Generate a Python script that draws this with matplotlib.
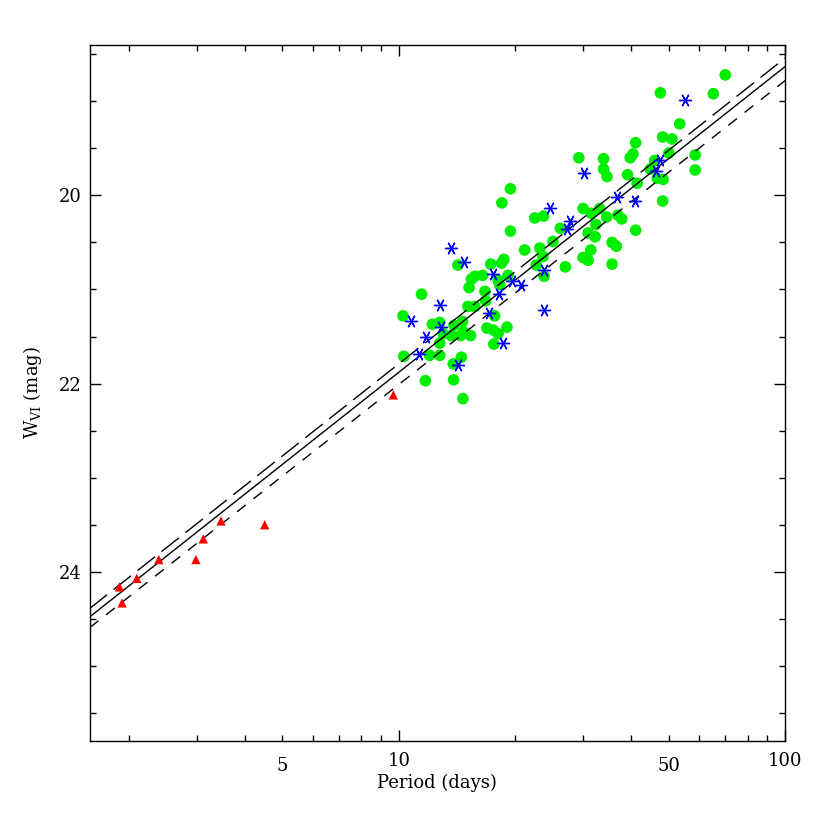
import numpy as np
import matplotlib
matplotlib.use('Agg')
import matplotlib.pyplot as plt
from matplotlib.ticker import LogLocator, MultipleLocator, FuncFormatter

plt.rcParams['font.family'] = 'DejaVu Serif'
plt.rcParams['mathtext.fontset'] = 'dejavuserif'

# ---------------------------------------------------------------------------
# Data: log10(Period / days) and Wesenheit W_VI (mag)
# ---------------------------------------------------------------------------
# Green circles
logp_green = [1.326, 1.365, 1.373, 1.399, 1.272, 1.266, 1.238, 1.153, 1.217, 1.197,
              1.188, 1.283, 1.257, 1.261, 1.182, 1.223, 1.059, 1.225, 1.179, 1.197,
              1.248, 1.011, 1.087, 1.106, 1.165, 1.143, 1.228, 1.244, 1.257, 1.280,
              1.168, 1.186, 1.160, 1.136, 1.115, 1.106, 1.246, 1.013, 1.080, 1.106,
              1.162, 1.141, 1.069, 1.142, 1.166, 1.376, 1.356, 1.289, 1.613, 1.606,
              1.599, 1.466, 1.530, 1.530, 1.539, 1.592, 1.617, 1.289, 1.267, 1.477,
              1.520, 1.352, 1.375, 1.538, 1.567, 1.577, 1.498, 1.418, 1.510, 1.490,
              1.508, 1.613, 1.552, 1.563, 1.497, 1.477, 1.490, 1.431, 1.552, 1.845,
              1.814, 1.677, 1.727, 1.683, 1.707, 1.699, 1.662, 1.767, 1.767, 1.651,
              1.669, 1.684, 1.683]
w_green = [20.58, 20.56, 20.65, 20.49, 20.68, 20.72, 20.73, 20.74, 20.85, 20.86,
           20.89, 20.85, 20.90, 20.95, 20.98, 21.02, 21.05, 21.12, 21.18, 21.18,
           21.28, 21.28, 21.37, 21.35, 21.34, 21.38, 21.41, 21.43, 21.47, 21.40,
           21.45, 21.49, 21.49, 21.49, 21.47, 21.57, 21.58, 21.71, 21.70, 21.70,
           21.72, 21.79, 21.97, 21.96, 22.16, 20.86, 20.74, 20.38, 19.44, 19.56,
           19.60, 19.60, 19.61, 19.72, 19.80, 19.78, 19.87, 19.93, 20.08, 20.14,
           20.14, 20.24, 20.22, 20.23, 20.21, 20.25, 20.19, 20.35, 20.31, 20.40,
           20.44, 20.37, 20.50, 20.54, 20.58, 20.66, 20.69, 20.76, 20.73, 18.72,
           18.92, 18.91, 19.24, 19.38, 19.40, 19.55, 19.63, 19.57, 19.73, 19.72,
           19.82, 19.83, 20.06]

# Blue asterisks
logp_blue = [1.135, 1.169, 1.244, 1.294, 1.316, 1.260, 1.376, 1.106, 1.233, 1.375,
             1.031, 1.109, 1.070, 1.270, 1.053, 1.153, 1.479, 1.392, 1.566, 1.612,
             1.442, 1.436, 1.741, 1.677, 1.666]
w_blue = [20.56, 20.71, 20.84, 20.91, 20.95, 21.05, 20.79, 21.16, 21.25, 21.22,
          21.33, 21.40, 21.50, 21.57, 21.69, 21.80, 19.76, 20.13, 20.02, 20.06,
          20.27, 20.36, 18.99, 19.62, 19.74]

# Red triangles
logp_red = [0.277, 0.284, 0.322, 0.379, 0.475, 0.494, 0.540, 0.653, 0.986]
w_red = [24.16, 24.33, 24.07, 23.87, 23.87, 23.65, 23.46, 23.50, 22.12]

# PL relations W = zp + slope * (logP - 1): solid, long dash, short dash
fit_zp = [21.88, 21.79, 22.01]
fit_slope = [-3.25, -3.25, -3.23]

#-----------------------------------------------------------------------------
fig = plt.figure(figsize=(8.3, 8.3), dpi=100)
ax = fig.add_axes([0.108, 0.107, 0.838, 0.839])

# Fits
lp = np.array([0.2, 2.0])
styles = [dict(linestyle='-'),
          dict(linestyle=(0, (16, 6))),
          dict(linestyle=(0, (8, 7)))]
for zp, sl, st in zip(fit_zp, fit_slope, styles):
    ax.plot(10 ** lp, zp + sl * (lp - 1.0), color='black', linewidth=1.0, **st, zorder=3)

ax.scatter(10 ** np.array(logp_green), w_green, s=70, color='#00ee00', edgecolors='none', zorder=2)
ax.scatter(10 ** np.array(logp_blue), w_blue, s=75, color='blue', marker=(6, 2, 90),
           linewidths=1.0, zorder=4)
ax.scatter(10 ** np.array(logp_red), w_red, s=45, color='red', marker='^', edgecolors='none', zorder=4)

# Axes
ax.set_xscale('log')
ax.set_xlim(10 ** 0.2, 100)
ax.set_ylim(25.8, 18.4)

ax.xaxis.set_major_locator(LogLocator(base=10))
ax.xaxis.set_minor_locator(LogLocator(base=10, subs=np.arange(2, 10)))
ax.xaxis.set_major_formatter(FuncFormatter(lambda v, p: f'{v:g}'))
ax.xaxis.set_minor_formatter(FuncFormatter(lambda v, p: f'{v:g}' if round(v) in (5, 50) else ''))
ax.yaxis.set_major_locator(MultipleLocator(2))
ax.yaxis.set_minor_locator(MultipleLocator(0.5))

ax.tick_params(which='both', direction='in', top=True, right=True, labelsize=13, width=1.0)
ax.tick_params(which='major', length=8)
ax.tick_params(which='minor', length=4.5)
ax.tick_params(axis='x', which='major', pad=7.5)
ax.tick_params(axis='x', which='minor', pad=11.5, labelsize=13)
ax.tick_params(axis='y', which='major', pad=6)

for s in ax.spines.values():
    s.set_linewidth(1.0)

ax.set_xlabel('Period (days)', fontsize=13)
ax.set_ylabel(r'W$_{\rm VI}$ (mag)', fontsize=13)
ax.xaxis.set_label_coords(0.499, -0.047)
ax.yaxis.set_label_coords(-0.066, 0.5)

plt.savefig('out.png', dpi=100)
